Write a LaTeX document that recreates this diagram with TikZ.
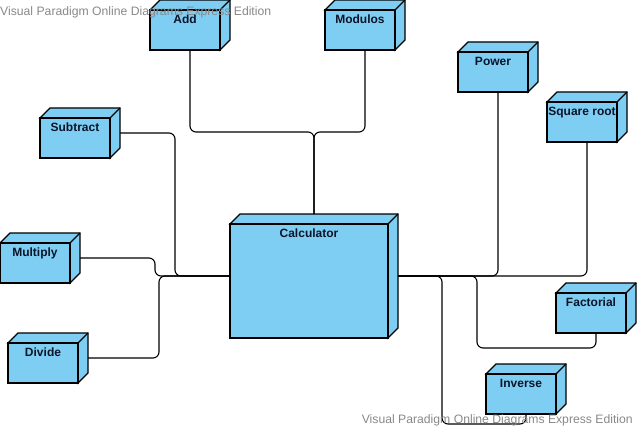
\documentclass[tikz,border=0pt]{standalone}
\usepackage{fontspec}
\setmainfont{Liberation Sans}
\usetikzlibrary{calc}
\definecolor{cubeblue}{RGB}{126,206,244}
\definecolor{labelink}{RGB}{12,20,40}
\definecolor{wmgray}{RGB}{136,136,136}
\tikzset{
  cubebb/.style={rectangle, inner sep=0pt, outer sep=0pt},
  cubeface/.style={fill=cubeblue, draw=black, line width=1.1pt, line join=miter},
  cubelabel/.style={font=\bfseries\fontsize{12}{14}\selectfont, text=labelink, anchor=base, inner sep=0pt},
  conn/.style={draw=black, line width=1.1pt, rounded corners=6pt},
  watermark/.style={font=\fontsize{12.2}{14}\selectfont, text=wmgray, inner sep=0pt}
}
% #1 name, #2 x1, #3 y1, #4 x2, #5 y2 (front face, y downwards), #6 label
\newcommand\mycube[6]{%
  \node[cubebb, minimum width={(#4-#2+10)*1pt}, minimum height={(#5-#3+10)*1pt}] (#1) at ({(#2+#4+10)/2},{(#3+#5-10)/2}) {};
  \filldraw[cubeface] (#2,#3) -- (#2+10,#3-10) -- (#4+10,#3-10) -- (#4+10,#5-10) -- (#4,#5) -- (#4,#3) -- cycle;
  \filldraw[cubeface] (#2,#3) rectangle (#4,#5);
  \draw[cubeface] (#4,#3) -- (#4+10,#3-10);
  \node[cubelabel] (#1label) at ({(#2+#4)/2},#3+13.3) {#6};
}
\begin{document}
\begin{tikzpicture}[x=1pt,y=-1pt]
\useasboundingbox (0,0) rectangle (638,428);
\mycube{add}{150}{10}{220}{50}{Add}
\mycube{mod}{325}{10}{395}{50}{Modulos}
\mycube{pow}{458}{52}{528}{92}{Power}
\mycube{sqr}{547}{102}{617}{142}{Square root}
\mycube{sub}{40}{118}{110}{158}{Subtract}
\mycube{mul}{0}{243}{70}{283}{Multiply}
\mycube{div}{8}{343}{78}{383}{Divide}
\mycube{calc}{230}{224}{388}{338}{Calculator}
\mycube{fact}{556}{293}{626}{333}{Factorial}
\mycube{inv}{486}{374}{556}{414}{Inverse}
% connectors
\draw[conn] (add.south) |- (calc.north |- 0,132) -- (calc.north);
\draw[conn] (mod.south) |- (calc.north |- 0,132) -- (calc.north);
\draw[conn] (sub.east) -- (175,133) -- (175,276) -- (calc.west);
\draw[conn] (mul.east) -- (155,258) -- (155,276) -- (calc.west);
\draw[conn] (div.east) -- (159,358) -- (159,276) -- (calc.west);
\draw[conn] (calc.east) -| (pow.south);
\draw[conn] (calc.east) -| (sqr.south);
\draw[conn] (calc.east) -- (477,276) -- (477,348) -| (fact.south);
\draw[conn] (calc.east) -- (442,276) -- (442,424) -| (inv.south);
% watermarks
\node[watermark, anchor=base west] (wm1) at (0,16) {Visual Paradigm Online Diagrams Express Edition};
\node[watermark, anchor=base east] (wm2) at (633,423) {Visual Paradigm Online Diagrams Express Edition};
\end{tikzpicture}
\end{document}
